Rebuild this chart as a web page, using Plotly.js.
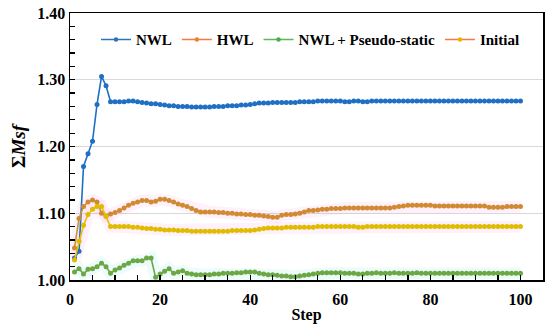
<!DOCTYPE html>
<html>
<head>
<meta charset="utf-8">
<script src="https://cdn.plot.ly/plotly-3.0.1.min.js"></script>
<style>html,body{margin:0;padding:0;background:#fff;}#chart{width:550px;height:333px;}</style>
</head>
<body>
<div id="chart"></div>
<script>
var steps = [];
for (var i = 1; i <= 100; i++) steps.push(i);

var nwl = [1.033,1.043,1.170,1.189,1.208,1.263,1.305,1.291,1.267,1.267,
1.267,1.267,1.268,1.268,1.267,1.266,1.265,1.264,1.264,1.263,
1.262,1.261,1.261,1.260,1.260,1.260,1.259,1.259,1.259,1.259,
1.259,1.260,1.260,1.260,1.261,1.261,1.261,1.262,1.262,1.263,
1.264,1.265,1.265,1.265,1.266,1.266,1.266,1.266,1.266,1.266,
1.267,1.267,1.267,1.267,1.268,1.268,1.268,1.268,1.268,1.268,
1.267,1.267,1.268,1.268,1.267,1.267,1.268,1.268,1.268,1.268,
1.268,1.268,1.268,1.268,1.268,1.268,1.268,1.268,1.268,1.268,
1.268,1.268,1.268,1.268,1.268,1.268,1.268,1.268,1.268,1.268,
1.268,1.268,1.268,1.268,1.268,1.268,1.268,1.268,1.268,1.268];

var hwl = [1.048,1.092,1.110,1.117,1.120,1.117,1.100,1.096,1.099,1.101,
1.104,1.108,1.112,1.115,1.117,1.119,1.119,1.117,1.118,1.121,
1.121,1.119,1.117,1.114,1.112,1.110,1.107,1.104,1.102,1.102,
1.102,1.102,1.101,1.101,1.100,1.100,1.099,1.099,1.098,1.098,
1.097,1.097,1.096,1.095,1.094,1.094,1.097,1.098,1.098,1.099,
1.100,1.102,1.104,1.104,1.105,1.106,1.106,1.107,1.107,1.107,
1.108,1.108,1.108,1.108,1.108,1.108,1.108,1.108,1.108,1.108,
1.108,1.109,1.110,1.111,1.112,1.112,1.112,1.112,1.112,1.112,
1.111,1.111,1.111,1.111,1.111,1.111,1.111,1.111,1.111,1.111,
1.111,1.111,1.109,1.109,1.109,1.109,1.110,1.110,1.110,1.110];

var pseudo = [1.012,1.017,1.009,1.016,1.017,1.020,1.025,1.020,1.010,1.015,
1.018,1.022,1.025,1.029,1.029,1.029,1.033,1.033,1.004,1.009,
1.013,1.017,1.010,1.012,1.014,1.010,1.009,1.008,1.008,1.008,
1.008,1.009,1.009,1.010,1.010,1.010,1.011,1.011,1.012,1.012,
1.012,1.010,1.009,1.008,1.008,1.007,1.006,1.006,1.005,1.005,
1.006,1.007,1.008,1.009,1.010,1.011,1.011,1.011,1.011,1.011,
1.010,1.010,1.010,1.009,1.009,1.010,1.010,1.011,1.010,1.010,
1.010,1.011,1.010,1.010,1.010,1.010,1.011,1.010,1.010,1.010,
1.010,1.010,1.010,1.010,1.010,1.010,1.010,1.010,1.010,1.010,
1.010,1.010,1.010,1.010,1.010,1.010,1.010,1.010,1.010,1.010];

var initial = [1.030,1.058,1.082,1.098,1.106,1.110,1.110,1.095,1.080,1.080,
1.080,1.080,1.080,1.079,1.079,1.078,1.077,1.077,1.076,1.076,
1.075,1.075,1.075,1.074,1.074,1.074,1.073,1.073,1.073,1.073,
1.073,1.073,1.073,1.073,1.073,1.074,1.074,1.074,1.074,1.074,
1.075,1.076,1.077,1.078,1.078,1.078,1.078,1.079,1.079,1.079,
1.079,1.079,1.079,1.079,1.080,1.080,1.080,1.080,1.080,1.080,
1.080,1.080,1.080,1.079,1.079,1.080,1.080,1.080,1.080,1.080,
1.080,1.080,1.080,1.080,1.080,1.080,1.080,1.080,1.080,1.080,
1.080,1.080,1.080,1.080,1.080,1.080,1.080,1.080,1.080,1.080,
1.080,1.080,1.080,1.080,1.080,1.080,1.080,1.080,1.080,1.080];

var seriesNames = ['NWL', 'HWL', 'NWL + Pseudo-static', 'Initial'];
var yTickVals = [1.00, 1.10, 1.20, 1.30, 1.40];
var xTickVals = [0, 20, 40, 60, 80, 100];

var FONT = 'Liberation Serif, Times New Roman, serif';

function glow(y, col) {
  return {x: steps, y: y, mode: 'lines', showlegend: false, hoverinfo: 'skip',
    line: {color: col, width: 12}};
}
function series(y, lineCol, markCol) {
  return {x: steps, y: y, mode: 'lines+markers', showlegend: false,
    line: {color: lineCol, width: 1.6},
    marker: {color: markCol, size: 5, symbol: 'circle'}};
}
function legendItem(name, lineCol, markCol) {
  return {x: [null], y: [null], mode: 'lines+markers', name: name,
    line: {color: lineCol, width: 1.6},
    marker: {color: markCol, size: 4.5}};
}

var data = [
  glow(hwl, 'rgba(255,120,220,0.10)'),
  glow(initial, 'rgba(255,120,220,0.10)'),
  glow(pseudo, 'rgba(80,230,220,0.10)'),
  series(nwl, '#1F6FC5', '#1F6FC5'),
  series(hwl, '#C09A2E', '#D08A32'),
  series(pseudo, '#6BA743', '#6BA743'),
  series(initial, '#E2C400', '#E0BC00'),
  legendItem(seriesNames[0], '#2E75B6', '#2E75B6'),
  legendItem(seriesNames[1], '#F47A45', '#EE8030'),
  legendItem(seriesNames[2], '#5DB85A', '#4FA84A'),
  legendItem(seriesNames[3], '#F47A45', '#F0B000')
];

var layout = {
  width: 550, height: 333,
  margin: {l: 70, r: 7, t: 13, b: 53},
  paper_bgcolor: '#fff', plot_bgcolor: '#fff',
  font: {family: FONT, color: '#000'},
  showlegend: true,
  legend: {orientation: 'h', x: 0.055, y: 0.9, xanchor: 'left', yanchor: 'middle',
    font: {family: FONT, size: 15, color: '#000', weight: 'bold'},
    bgcolor: 'rgba(0,0,0,0)', itemwidth: 30, tracegroupgap: 0},
  xaxis: {
    range: [0, 105], tickvals: xTickVals, ticktext: xTickVals.map(String),
    ticks: 'inside', ticklen: 5, tickwidth: 1.3, tickcolor: '#000',
    minor: {dtick: 5, tick0: 0, ticks: 'inside', ticklen: 5, tickwidth: 1.3, tickcolor: '#000'},
    showline: true, linecolor: '#000', linewidth: 1.5, mirror: true,
    showgrid: false, zeroline: false, ticklabelstandoff: 4,
    tickfont: {family: FONT, size: 16, color: '#000', weight: 'bold'},
    title: {text: '<b>Step</b>', font: {family: FONT, size: 16, color: '#000'}, standoff: 2}
  },
  yaxis: {
    range: [1.00, 1.40], tickvals: yTickVals, ticktext: yTickVals.map(function(v){return v.toFixed(2);}),
    ticks: 'inside', ticklen: 5, tickwidth: 1.3, tickcolor: '#000',
    minor: {dtick: 0.02, tick0: 1.0, ticks: 'inside', ticklen: 5, tickwidth: 1.3, tickcolor: '#000', showgrid: false},
    showline: true, linecolor: '#000', linewidth: 1.5, mirror: true,
    showgrid: true, gridcolor: '#d9d9d9', gridwidth: 1, zeroline: false,
    tickfont: {family: FONT, size: 16, color: '#000', weight: 'bold'},
    title: {text: '<b>Σ<i>Msf</i></b>', font: {family: FONT, size: 19, color: '#000'}, standoff: 6}
  }
};

Plotly.newPlot('chart', data, layout, {displayModeBar: false, staticPlot: true});
</script>
</body>
</html>
